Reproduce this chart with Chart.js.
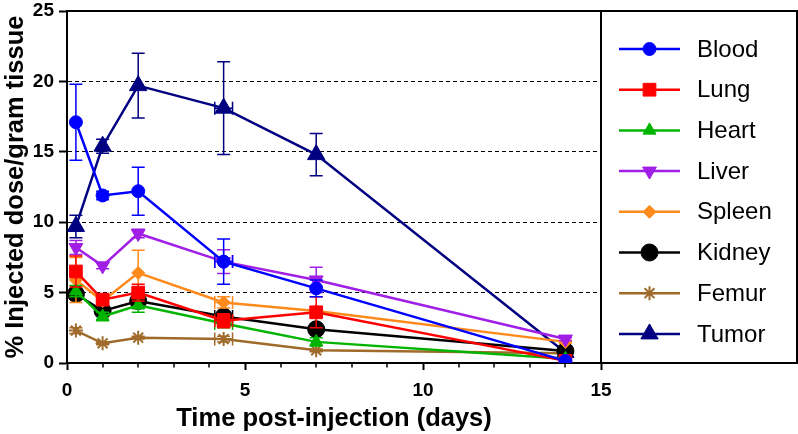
<!DOCTYPE html>
<html>
<head>
<meta charset="utf-8">
<script src="https://cdn.jsdelivr.net/npm/chart.js@4.4.1/dist/chart.umd.min.js"></script>
<style>
html,body{margin:0;padding:0;background:#fff;}
#wrap{width:798px;height:434px;position:relative;}
</style>
</head>
<body>
<div id="wrap"><canvas id="c"></canvas></div>
<script>
// ---- data ----
const times     = [0.25, 1, 2, 4.4, 7, 14];
const timesErr  = [0, 0, 0, 0.25, 0, 0];
const seriesNames = ["Blood","Lung","Heart","Liver","Spleen","Kidney","Femur","Tumor"];
const blood     = [17.1, 11.9, 12.2, 7.2, 5.3, 0.15];
const bloodErr  = [2.7, 0.3, 1.7, 1.6, 0.6, 0.1];
const lung      = [6.5, 4.5, 5.0, 3.0, 3.6, 0.15];
const lungErr   = [1.1, 0.3, 0.6, 0.5, 1.1, 0.1];
const heart     = [5.1, 3.3, 4.1, 2.8, 1.5, 0.3];
const heartErr  = [0.4, 0.3, 0.5, 0.3, 0.3, 0.1];
const liver     = [8.2, 6.9, 9.2, 7.2, 5.9, 1.7];
const liverErr  = [0.5, 0.2, 0.3, 0.85, 0.9, 0.1];
const spleen    = [5.9, 4.4, 6.4, 4.3, 3.7, 1.5];
const spleenErr = [1.6, 0.3, 1.6, 0.4, 0.3, 0.1];
const kidney    = [4.9, 3.7, 4.4, 3.3, 2.4, 0.85];
const kidneyErr = [0.3, 0.3, 0.3, 0.3, 0.2, 0.1];
const femur     = [2.3, 1.4, 1.8, 1.7, 0.9, 0.7];
const femurErr  = [0.2, 0.1, 0.1, 0.2, 0.1, 0.05];
const tumor     = [9.7, 15.4, 19.7, 18.1, 14.8, 0.75];
const tumorErr  = [0.8, 0.5, 2.3, 3.3, 1.5, 0.2];
const yTicks    = [0, 5, 10, 15, 20, 25];
const xTicks    = [0, 5, 10, 15];

// ---- styles ----
const styles = [
  {color:'#0000ff', style:'circle',   radius:6.5, rot:0},
  {color:'#ff0000', style:'rect',     radius:9,   rot:0},
  {color:'#00b400', style:'triangle', radius:7.5, rot:0},
  {color:'#a01ee6', style:'triangle', radius:8,   rot:180},
  {color:'#ff8a1c', style:'rectRot',  radius:6.5, rot:0},
  {color:'#000000', style:'circle',   radius:8.5, rot:0},
  {color:'#a06b2a', style:'star',     radius:7,   rot:0},
  {color:'#000080', style:'triangle', radius:10,  rot:0}
];
const values = [blood, lung, heart, liver, spleen, kidney, femur, tumor];
const errors = [bloodErr, lungErr, heartErr, liverErr, spleenErr, kidneyErr, femurErr, tumorErr];

const FONT = "'Liberation Sans', Arial, Helvetica, sans-serif";

const datasets = seriesNames.map((name, k) => ({
  label: name,
  data: times.map((t, i) => ({x: t, y: values[k][i]})),
  errY: errors[k],
  errX: timesErr,
  borderColor: styles[k].color,
  backgroundColor: styles[k].color,
  borderWidth: 2.5,
  pointStyle: styles[k].style,
  pointRadius: styles[k].radius,
  pointRotation: styles[k].rot,
  pointBackgroundColor: styles[k].color,
  pointBorderColor: styles[k].color,
  pointBorderWidth: styles[k].style === 'star' ? 2 : 1,
  tension: 0,
  fill: false
}));

const errorBars = {
  id: 'errorBars',
  beforeDatasetDraw(chart, args) {
    const ds = chart.data.datasets[args.index];
    const xs = chart.scales.x, ys = chart.scales.y;
    const ctx = chart.ctx;
    ctx.save();
    ctx.strokeStyle = ds.borderColor;
    ctx.lineWidth = 1.5;
    const cap = 6.5;
    ds.data.forEach((p, i) => {
      const e = ds.errY[i];
      const px = xs.getPixelForValue(p.x);
      const py = ys.getPixelForValue(p.y);
      if (e > 0) {
        const yt = ys.getPixelForValue(p.y + e);
        const yb = ys.getPixelForValue(Math.max(0, p.y - e));
        ctx.beginPath();
        ctx.moveTo(px, yt); ctx.lineTo(px, yb);
        ctx.moveTo(px - cap, yt); ctx.lineTo(px + cap, yt);
        ctx.moveTo(px - cap, yb); ctx.lineTo(px + cap, yb);
        ctx.stroke();
      }
      const ex = ds.errX[i];
      if (ex > 0) {
        const xl = xs.getPixelForValue(p.x - ex);
        const xr = xs.getPixelForValue(p.x + ex);
        ctx.beginPath();
        ctx.moveTo(xl, py); ctx.lineTo(xr, py);
        ctx.moveTo(xl, py - cap); ctx.lineTo(xl, py + cap);
        ctx.moveTo(xr, py - cap); ctx.lineTo(xr, py + cap);
        ctx.stroke();
      }
    });
    ctx.restore();
  }
};

function drawMarker(ctx, st, x, y, color) {
  if (Chart.helpers && Chart.helpers.drawPoint) {
    ctx.save();
    ctx.fillStyle = color; ctx.strokeStyle = color;
    ctx.lineWidth = st.style === 'star' ? 2 : 1;
    Chart.helpers.drawPoint(ctx, {pointStyle: st.style, radius: st.radius, rotation: st.rot, borderWidth: ctx.lineWidth}, x, y);
    ctx.restore();
  }
}

const frameAndLegend = {
  id: 'frameAndLegend',
  afterDraw(chart) {
    const ctx = chart.ctx;
    const a = chart.chartArea;
    const xs = chart.scales.x;
    const W = chart.width;
    ctx.save();
    // minor ticks on x axis
    ctx.strokeStyle = '#000';
    ctx.lineWidth = 1.5;
    ctx.beginPath();
    for (let v = 1; v < 15; v++) {
      if (v % 5 === 0) continue;
      const px = Math.round(xs.getPixelForValue(v));
      ctx.moveTo(px, a.bottom); ctx.lineTo(px, a.bottom + 4.5);
    }
    ctx.stroke();
    // frame: top border across plot + legend, right border, legend box
    ctx.lineWidth = 2;
    ctx.beginPath();
    ctx.moveTo(a.left, a.top); ctx.lineTo(W - 1, a.top);
    ctx.lineTo(W - 1, a.bottom); ctx.lineTo(a.right, a.bottom);
    ctx.moveTo(a.right, a.top); ctx.lineTo(a.right, a.bottom);
    ctx.stroke();
    // legend
    const x0 = a.right + 18, x1 = a.right + 79, xm = (x0 + x1) / 2, tx = a.right + 96;
    chart.data.datasets.forEach((ds, k) => {
      const y = a.top + 38 + k * 40.7;
      ctx.strokeStyle = ds.borderColor;
      ctx.lineWidth = 2.5;
      ctx.beginPath(); ctx.moveTo(x0, y); ctx.lineTo(x1, y); ctx.stroke();
      drawMarker(ctx, styles[k], xm, y, ds.borderColor);
      ctx.fillStyle = '#000';
      ctx.font = '24px ' + FONT;
      ctx.textBaseline = 'middle';
      ctx.textAlign = 'left';
      ctx.fillText(ds.label, tx, y + 1);
    });
    ctx.restore();
  }
};

new Chart(document.getElementById('c'), {
  type: 'line',
  data: { datasets },
  options: {
    responsive: true,
    maintainAspectRatio: false,
    animation: false,
    events: [],
    layout: { padding: { top: 7, right: 197, left: 0, bottom: 0 } },
    plugins: { legend: { display: false }, tooltip: { enabled: false } },
    scales: {
      x: {
        type: 'linear',
        min: 0, max: 15,
        afterBuildTicks(scale) { scale.ticks = xTicks.map(v => ({value: v})); },
        afterFit(scale) { scale.height = 71; scale.paddingLeft = 0; scale.paddingRight = 0; },
        ticks: {
          color: '#000',
          font: { family: FONT, size: 19, weight: 'bold' },
          padding: 9,
          maxRotation: 0,
          autoSkip: false
        },
        grid: { drawOnChartArea: false, drawTicks: true, tickLength: 7, tickColor: '#000', tickWidth: 2 },
        border: { display: true, color: '#000', width: 2 },
        title: {
          display: true,
          text: 'Time post-injection (days)',
          color: '#000',
          font: { family: FONT, size: 25.5, weight: 'bold' },
          padding: { top: 0, bottom: 0 }
        }
      },
      y: {
        min: 0, max: 25,
        afterBuildTicks(scale) { scale.ticks = yTicks.map(v => ({value: v})); },
        afterFit(scale) { scale.width = 67; scale.paddingTop = 0; scale.paddingBottom = 0; },
        ticks: {
          color: '#000',
          font: { family: FONT, size: 19, weight: 'bold', lineHeight: 1 },
          padding: 5
        },
        grid: {
          drawOnChartArea: true,
          color: ctx => (ctx.tick && ctx.tick.value > 0 && ctx.tick.value < 25) ? '#000' : 'rgba(0,0,0,0)',
          lineWidth: 1,
          tickLength: 8,
          tickColor: '#000',
          tickWidth: 2
        },
        border: { display: true, color: '#000', width: 2, dash: [4, 3] },
        title: {
          display: true,
          text: '% Injected dose/gram tissue',
          color: '#000',
          font: { family: FONT, size: 25.5, weight: 'bold' },
          padding: { top: 1, bottom: 0 }
        }
      }
    }
  },
  plugins: [errorBars, frameAndLegend]
});
</script>
</body>
</html>
